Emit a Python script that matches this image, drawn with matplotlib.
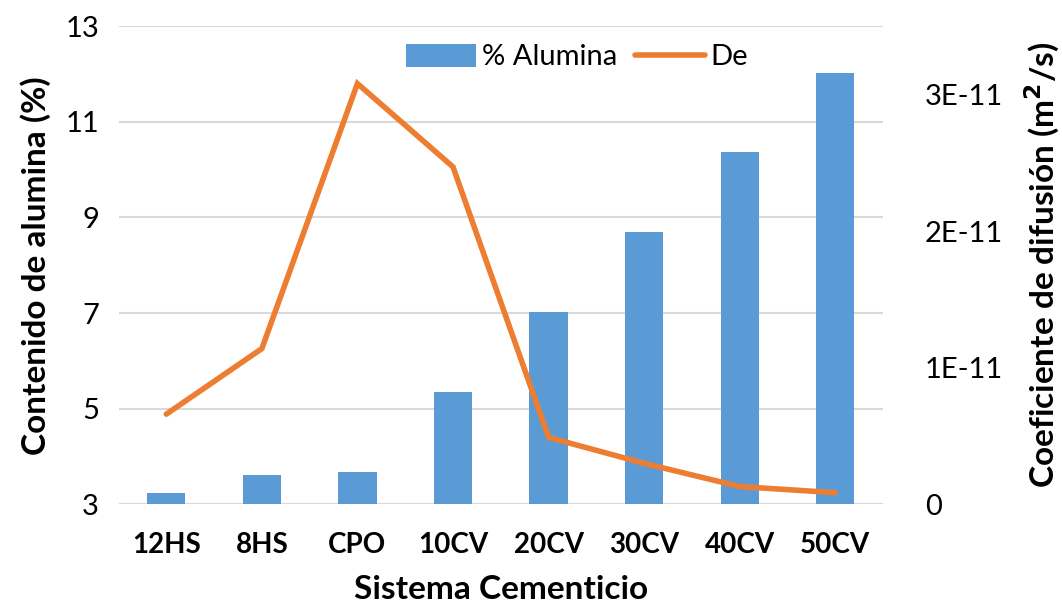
import numpy as np
import matplotlib.pyplot as plt
from matplotlib.ticker import FuncFormatter

# Datos / data
sistemas = ['12HS', '8HS', 'CPO', '10CV', '20CV', '30CV', '40CV', '50CV']
alumina = [3.24, 3.61, 3.68, 5.35, 7.03, 8.69, 10.36, 12.03]
de = [6.6e-12, 1.14e-11, 3.08e-11, 2.47e-11, 4.9e-12, 3.0e-12, 1.3e-12, 8.5e-13]

plt.rcParams['font.family'] = ['Lato', 'DejaVu Sans']

fig = plt.figure(figsize=(10.62, 6.09), dpi=100)
ax = fig.add_axes([0.1116, 0.1719, 0.7199, 0.7851])
ax2 = ax.twinx()

x = np.arange(len(sistemas))
bars = ax.bar(x, alumina, width=0.4, color='#5B9BD5', label='% Alumina', zorder=2)
line, = ax2.plot(x, de, color='#ED7D31', linewidth=4, solid_capstyle='round',
                 solid_joinstyle='miter', label='De', zorder=3)

# Eje izquierdo / left axis
ax.set_ylim(3, 13)
ax.set_yticks([3, 5, 7, 9, 11, 13])
ax.set_xlim(-0.5, len(sistemas) - 0.5)
ax.set_xticks(x)
ax.set_xticklabels(sistemas, fontweight='bold', fontsize=20)
ax.grid(axis='y', color='#D9D9D9', linewidth=1.5, zorder=0)
ax.set_axisbelow(True)
ax.tick_params(axis='both', length=0, labelsize=21, colors='black')
ax.tick_params(axis='x', pad=20, labelsize=20)
ax.tick_params(axis='y', pad=14)
for s in ax.spines.values():
    s.set_visible(False)

# Eje derecho / right axis
ax2.set_ylim(0, 3.5e-11)
ax2.set_yticks([0, 1e-11, 2e-11, 3e-11])
ax2.yaxis.set_major_formatter(FuncFormatter(lambda v, p: '0' if v == 0 else f'{v / 1e-11:.0f}E-11'))
ax2.tick_params(axis='y', length=0, labelsize=21, pad=30)
for s in ax2.spines.values():
    s.set_visible(False)

ax.set_xlabel('Sistema Cementicio', fontsize=24, fontweight='bold', labelpad=12)
ax.set_ylabel('Contenido de alumina (%)', fontsize=24, fontweight='bold', labelpad=10)
ax2.set_ylabel('Coeficiente de difusión (m$^\\mathbf{2}$/s)', fontsize=24, fontweight='bold',
               labelpad=14)

handles = [bars, line]
ax.legend(handles, ['% Alumina', 'De'], loc='upper center', bbox_to_anchor=(0.6, 1.0),
          ncol=2, frameon=False, fontsize=21, handlelength=2.4, handleheight=0.85,
          columnspacing=0.6, handletextpad=0.2, borderaxespad=0.2)

fig.savefig('out.png', dpi=100)
